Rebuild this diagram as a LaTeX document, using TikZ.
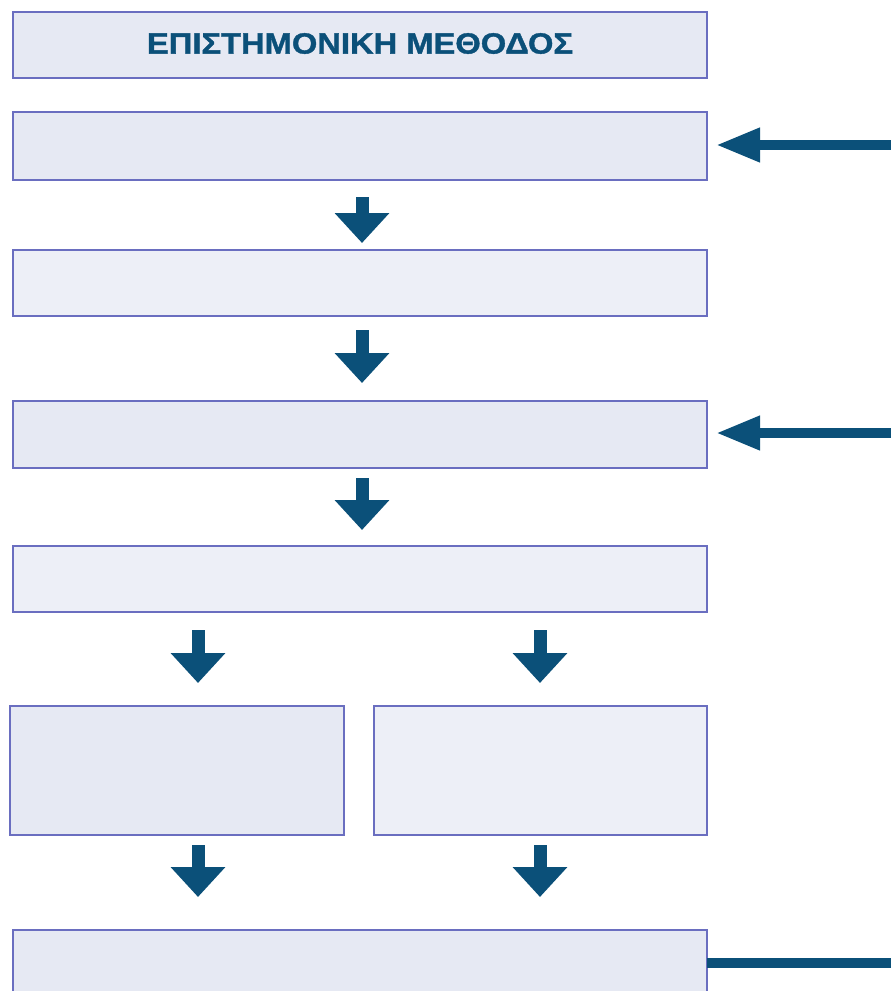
\documentclass[tikz,border=0pt]{standalone}
\usepackage{fontspec}
\usepackage{graphicx}
\setmainfont{Liberation Sans}
\newfontfamily\titlefont[FakeBold=1.2]{Liberation Sans Bold}
\usetikzlibrary{arrows.meta,calc}
\definecolor{boxline}{HTML}{6A6EC0}
\definecolor{boxfill}{HTML}{E6E9F3}
\definecolor{boxfillb}{HTML}{EDEFF7}
\definecolor{arrowcol}{HTML}{0B5079}
\begin{document}
\begin{tikzpicture}[x=1pt,y=-1pt,
  box/.style={draw=boxline,line width=2.2pt,fill=boxfill,inner sep=0pt,outer sep=0pt},
  boxb/.style={box,fill=boxfillb},
  downarrow/.style={draw=arrowcol,line width=13pt,-{Triangle[width=53pt 0,length=30pt 0]}},
  sidearrow/.style={draw=arrowcol,line width=10pt,-{Triangle[width=32pt 0,length=44pt 0]}},
  sideline/.style={draw=arrowcol,line width=10pt}]
\useasboundingbox (0,0) rectangle (891,991);
\clip (0,0) rectangle (891,991);
\node[box,minimum width=694pt,minimum height=66pt,anchor=north west] (title) at (13,12) {};
\node[text=arrowcol,inner sep=0pt] (titletext) at (360,43.5)
  {\resizebox{426pt}{20.5pt}{\titlefont\fontsize{28pt}{28pt}\selectfont ΕΠΙΣΤΗΜΟΝΙΚΗ ΜΕΘΟΔΟΣ}};
\node[box,minimum width=694pt,minimum height=68pt,anchor=north west] (b1) at (13,112) {};
\node[boxb,minimum width=694pt,minimum height=66pt,anchor=north west] (b2) at (13,250) {};
\node[box,minimum width=694pt,minimum height=67pt,anchor=north west] (b3) at (13,401) {};
\node[boxb,minimum width=694pt,minimum height=66pt,anchor=north west] (b4) at (13,546) {};
\node[box,minimum width=334pt,minimum height=129pt,anchor=north west] (bl) at (10,706) {};
\node[boxb,minimum width=333pt,minimum height=129pt,anchor=north west] (br) at (374,706) {};
\node[box,minimum width=694pt,minimum height=80pt,anchor=north west] (bb) at (13,930) {};
\coordinate (in1) at (891,145);
\coordinate (in2) at (891,433);
\coordinate (out1) at (891,963);
% vertical arrows
\draw[downarrow,shorten <=17pt,shorten >=7pt] ([xshift=349pt]b1.south west) -- ([xshift=349pt]b2.north west);
\draw[downarrow,shorten <=14pt,shorten >=18pt] ([xshift=349pt]b2.south west) -- ([xshift=349pt]b3.north west);
\draw[downarrow,shorten <=10pt,shorten >=16pt] ([xshift=349pt]b3.south west) -- ([xshift=349pt]b4.north west);
\draw[downarrow,shorten <=18pt,shorten >=23pt] ([xshift=188pt]bl.north west |- b4.south) -- ([xshift=188pt]bl.north west);
\draw[downarrow,shorten <=18pt,shorten >=23pt] ([xshift=166pt]br.north west |- b4.south) -- ([xshift=166pt]br.north west);
\draw[downarrow,shorten <=10pt,shorten >=33pt] ([xshift=188pt]bl.south west) -- ([xshift=188pt]bl.south west |- bb.north);
\draw[downarrow,shorten <=10pt,shorten >=33pt] ([xshift=166pt]br.south west) -- ([xshift=166pt]br.south west |- bb.north);
% side arrows
\draw[sidearrow,shorten >=9pt] (in1) -- (in1 -| b1.east);
\draw[sidearrow,shorten >=9pt] (in2) -- (in2 -| b3.east);
\draw[sideline] (bb.east |- out1) -- (out1);
\end{tikzpicture}
\end{document}
